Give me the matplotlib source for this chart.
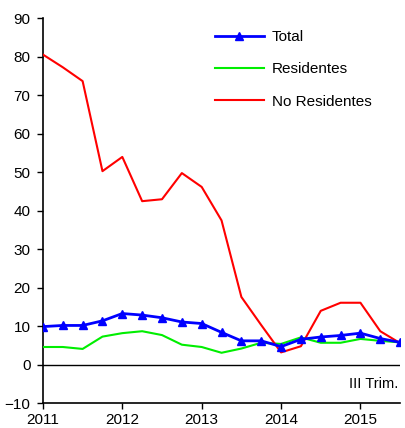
import matplotlib
matplotlib.use("Agg")
import matplotlib.pyplot as plt
import numpy as np

plt.rcParams['font.family'] = ['Liberation Sans', 'DejaVu Sans']

# Quarterly data 2011 Q1 .. 2015 Q3
quarters = [2011.0, 2011.25, 2011.5, 2011.75,
            2012.0, 2012.25, 2012.5, 2012.75,
            2013.0, 2013.25, 2013.5, 2013.75,
            2014.0, 2014.25, 2014.5, 2014.75,
            2015.0, 2015.25, 2015.5]
total = [9.9, 10.2, 10.2, 11.4, 13.3, 12.9, 12.2, 11.1, 10.7, 8.4, 6.2, 6.2,
         4.7, 6.6, 7.2, 7.6, 8.2, 6.8, 5.8]
residentes = [4.6, 4.6, 4.1, 7.3, 8.2, 8.7, 7.7, 5.2, 4.6, 3.1, 4.2, 5.7,
              5.4, 7.1, 5.7, 5.7, 6.7, 6.2, 5.8]
no_residentes = [80.6, 77.3, 73.7, 50.3, 54.0, 42.5, 43.0, 49.8, 46.2, 37.5,
                 17.6, 10.3, 3.2, 4.8, 14.0, 16.1, 16.1, 8.7, 5.6]
year_ticks = [2011, 2012, 2013, 2014, 2015]
y_ticks = [-10, 0, 10, 20, 30, 40, 50, 60, 70, 80, 90]

fig = plt.figure(figsize=(4.05, 4.28), dpi=100)
ax = fig.add_axes([0.106, 0.058, 0.882, 0.899])

ax.plot(quarters, total, color='#0000FF', lw=2, marker='^', markersize=6,
        label='Total', zorder=4)
ax.plot(quarters, residentes, color='#00EE00', lw=1.5, label='Residentes', zorder=3)
ax.plot(quarters, no_residentes, color='#FF0000', lw=1.5, label='No Residentes', zorder=3)

ax.axhline(0, color='black', lw=1, zorder=2)

ax.set_xlim(2011, 2015.5)
ax.set_ylim(-10, 90)
ax.set_xticks(year_ticks)
ax.set_xticklabels([str(y) for y in year_ticks])
ax.set_yticks(y_ticks)
ax.tick_params(axis='both', labelsize=11, direction='out', length=4, width=1,
               colors='black')
ax.tick_params(axis='y', pad=5)
ax.tick_params(axis='x', pad=3)
for s in ['top', 'right']:
    ax.spines[s].set_visible(False)
for s in ['left', 'bottom']:
    ax.spines[s].set_linewidth(1.2)

ax.text(2015.47, -5, 'III Trim.', ha='right', va='center', fontsize=10.5)

fig.legend(loc='upper left', bbox_to_anchor=(0.531, 0.93), frameon=False,
           fontsize=11, handlelength=3.2, labelspacing=1.2, handletextpad=0.5,
           borderpad=0, borderaxespad=0)

fig.savefig('out.png', dpi=100)
